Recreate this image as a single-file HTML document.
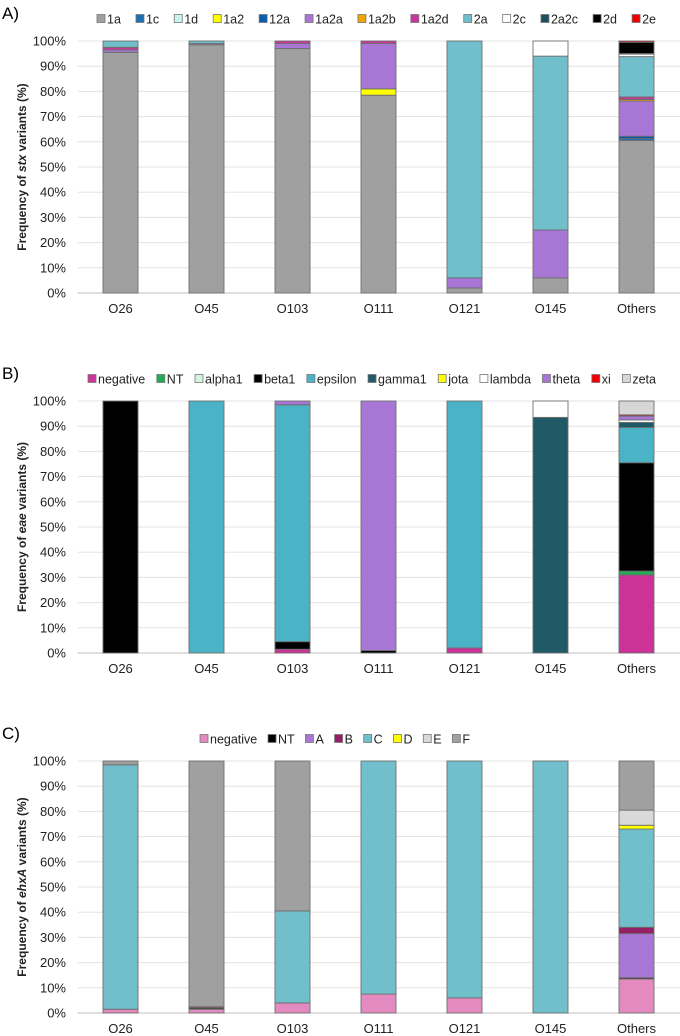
<!DOCTYPE html>
<html><head><meta charset="utf-8">
<style>
html,body{margin:0;padding:0;background:#fff;}
svg{display:block;font-family:"Liberation Sans",Arial,sans-serif;}
</style></head>
<body>
<svg id="chart" width="680" height="1036" viewBox="0 0 680 1036"></svg>
<script>
const categories = ["O26","O45","O103","O111","O121","O145","Others"];
const yTicks = [0,10,20,30,40,50,60,70,80,90,100];

const seriesA = ["1a","1c","1d","1a2","12a","1a2a","1a2b","1a2d","2a","2c","2a2c","2d","2e"];
const colorsA = ["#a0a0a0","#1f6fb5","#c9f3ee","#ffff00","#0b5cab","#a877d6","#f0a500","#c8369a","#72bfcc","#ffffff","#1d4f5e","#000000","#ee0000"];
const valuesA = [
  [95.5,98.5,97,78.5,2,6,60.5],
  [0,0,0,0,0,0,0.7],
  [0,0,0,0,0,0,0],
  [0,0,0,2.5,0,0,0],
  [0,0,0,0,0,0,1],
  [1,0.5,2,18,4,19,14],
  [0,0,0,0,0,0,0.6],
  [1,0,1,1,0,0,1],
  [2.5,1,0,0,94,69,16],
  [0,0,0,0,0,6,1],
  [0,0,0,0,0,0,0.2],
  [0,0,0,0,0,0,4.5],
  [0,0,0,0,0,0,0.5]
];

const seriesB = ["negative","NT","alpha1","beta1","epsilon","gamma1","jota","lambda","theta","xi","zeta"];
const colorsB = ["#cc3399","#22aa55","#d3f5e0","#000000","#4ab4c6","#1f5a66","#ffff00","#ffffff","#a877d6","#ee0000","#d6d6d6"];
const valuesB = [
  [0,0,1.5,0,2,0,31],
  [0,0,0,0,0,0,1.5],
  [0,0,0,0,0,0,0],
  [100,0,3,1,0,0,43],
  [0,100,94,0,98,0,14],
  [0,0,0,0,0,93.5,2],
  [0,0,0,0,0,0,0],
  [0,0,0,0,0,6.5,1],
  [0,0,1.5,99,0,0,1.5],
  [0,0,0,0,0,0,0.5],
  [0,0,0,0,0,0,5.5]
];

const seriesC = ["negative","NT","A","B","C","D","E","F"];
const colorsC = ["#e38bc0","#000000","#a877d6","#962066","#72bfcc","#ffff00","#d9d9d9","#a0a0a0"];
const valuesC = [
  [1.5,1.5,4,7.5,6,0,13.5],
  [0,0.5,0,0,0,0,0.5],
  [0,0,0,0,0,0,17.5],
  [0,0.5,0,0,0,0,2.5],
  [97,0,36.5,92.5,94,100,39],
  [0,0,0,0,0,0,1.5],
  [0,0,0,0,0,0,6],
  [1.5,97.5,59.5,0,0,0,19.5]
];

const NS = "http://www.w3.org/2000/svg";
const svg = document.getElementById("chart");
function mk(tag, attrs, parent){
  const e = document.createElementNS(NS, tag);
  for (const k in attrs) e.setAttribute(k, attrs[k]);
  (parent||svg).appendChild(e);
  return e;
}

function drawChart(opt){
  const x0 = 77.5, step = 86, bw = 35;
  const yTop = opt.top, yBot = opt.top + 252;
  const yScale = v => yBot - v/100*(yBot-yTop);
  const xCenter = i => x0 + step*i + step/2;
  const g = mk("g", {});
  
  

  const pl = mk("text", {x:2, y:opt.top-22, "font-size":17, fill:"#000"}, g);
  pl.textContent = opt.panel;
  
  

  yTicks.forEach(t => {
    const y = yScale(t);
    const ln = mk("line", {x1:x0, x2:680, y1:y, y2:y, stroke: t===0 ? "#bfbfbf" : "#e3e3e3", "stroke-width":1}, g);
    
    
    const tx = mk("text", {x:66, y:y+4.5, "font-size":13, "text-anchor":"end", fill:"#222"}, g);
    tx.textContent = t + "%";
    
    
  });

  categories.forEach((c,i) => {
    let acc = 0;
    opt.series.forEach((s,si) => {
      const v = opt.values[si][i];
      if (v <= 0) return;
      const y1 = yScale(acc + v), y2 = yScale(acc);
      const r = mk("rect", {x:xCenter(i)-bw/2, y:y1, width:bw, height:Math.max(y2-y1,0.5), fill:opt.colors[si], stroke:"#6e6e6e", "stroke-width":0.9}, g);
      
      
      acc += v;
    });
    const lab = mk("text", {x:xCenter(i), y:yBot+20, "font-size":13, "text-anchor":"middle", fill:"#222"}, g);
    lab.textContent = c;
    
    
  });

  const cy = (yTop+yBot)/2;
  const yt = mk("text", {x:0, y:0, "font-size":12, "font-weight":"bold", "text-anchor":"middle", fill:"#222", transform:"translate(26,"+cy+") rotate(-90)"}, g);
  
  
  const t1 = mk("tspan", {}, yt); t1.textContent = "Frequency of ";
  const t2 = mk("tspan", {"font-style":"italic"}, yt); t2.textContent = opt.gene;
  const t3 = mk("tspan", {}, yt); t3.textContent = " variants (%)";

  // legend laid out by measuring text and spreading over the span
  const ly = opt.top - 22;
  const lg = mk("g", {}, g);
  
  
  const entries = opt.series.map((s,si) => {
    const e = mk("g", {}, lg);
    
    
    const r = mk("rect", {x:0, y:ly-4.5, width:8, height:8, fill:opt.colors[si], stroke:"#777", "stroke-width":0.8}, e);
    const t = mk("text", {x:0, y:ly+4.5, "font-size":12.5, fill:"#222"}, e);
    t.textContent = s;
    return {r, t, w: 10 + t.getComputedTextLength()};
  });
  const totalW = entries.reduce((a,b)=>a+b.w,0);
  const gap = (opt.legendR - opt.legendL - totalW) / (entries.length - 1);
  let lx = opt.legendL;
  entries.forEach(en => {
    en.r.setAttribute("x", lx);
    en.t.setAttribute("x", lx + 10);
    lx += en.w + gap;
  });
}

drawChart({name:"chart-stx", panel:"A)", top:41, gene:"stx", series:seriesA, colors:colorsA, values:valuesA, legendL:97, legendR:656});
drawChart({name:"chart-eae", panel:"B)", top:401, gene:"eae", series:seriesB, colors:colorsB, values:valuesB, legendL:88, legendR:656});
drawChart({name:"chart-ehxa", panel:"C)", top:761, gene:"ehxA", series:seriesC, colors:colorsC, values:valuesC, legendL:200, legendR:470});
</script>
</body></html>
